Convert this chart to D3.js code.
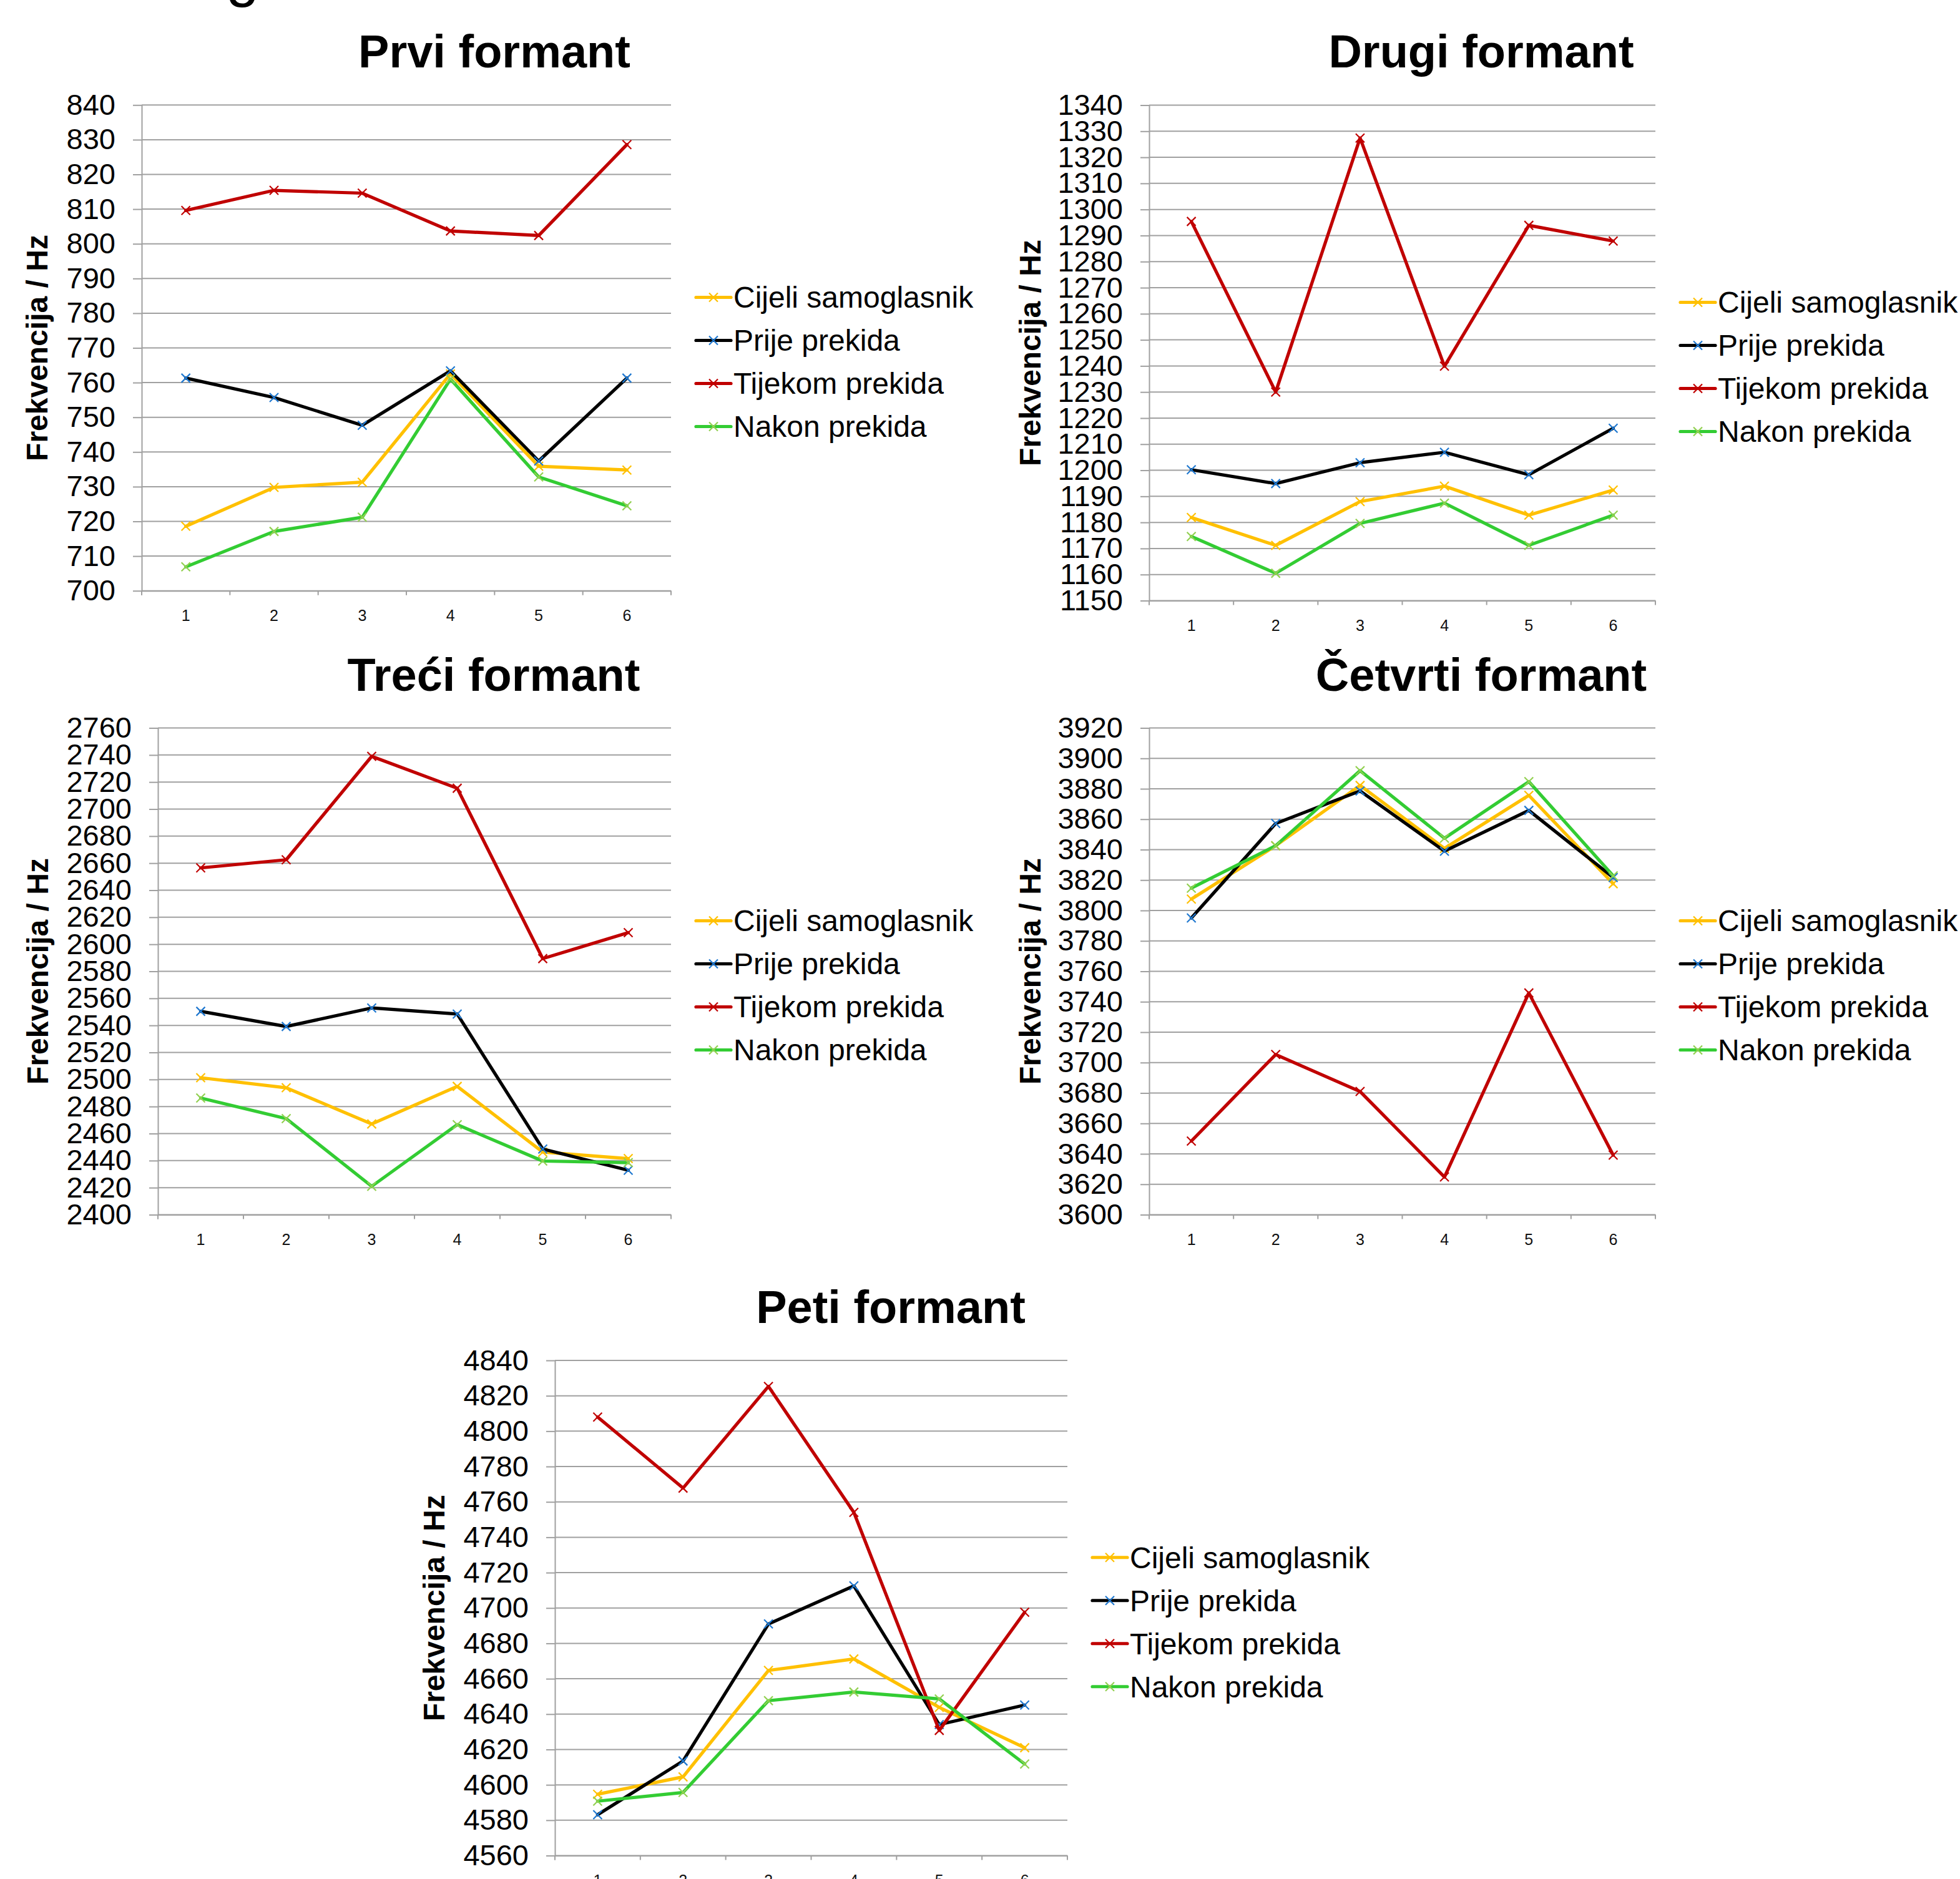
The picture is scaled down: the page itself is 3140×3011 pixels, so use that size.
<!DOCTYPE html>
<html>
<head>
<meta charset="utf-8">
<script src="https://cdn.jsdelivr.net/npm/d3@7"></script>
<style>
  html, body { margin: 0; padding: 0; background: #ffffff; }
  svg { display: block; }
  text { font-family: "Liberation Sans", Arial, "DejaVu Sans", sans-serif; }
</style>
</head>
<body>
<div id="chart"></div>
<script>
// ---------------- DATA ----------------
const categories = [1, 2, 3, 4, 5, 6];
const seriesNames = ["Cijeli samoglasnik", "Prije prekida", "Tijekom prekida", "Nakon prekida"];

const chartTitles = ["Prvi formant", "Drugi formant", "Treći formant", "Četvrti formant", "Peti formant"];
const yAxisTitle = "Frekvencija / Hz";

// Prvi formant
const prviCijeli  = [718.6, 729.8, 731.3, 762.5, 735.9, 734.8];
const prviPrije   = [761.3, 755.7, 747.7, 763.4, 737.4, 761.3];
const prviTijekom = [809.6, 815.4, 814.6, 803.7, 802.4, 828.6];
const prviNakon   = [706.9, 717.1, 721.2, 761.0, 732.8, 724.5];
const prviTicks   = [700, 710, 720, 730, 740, 750, 760, 770, 780, 790, 800, 810, 820, 830, 840];

// Drugi formant
const drugiCijeli  = [1181.9, 1171.2, 1188.0, 1193.9, 1182.8, 1192.4];
const drugiPrije   = [1200.2, 1194.9, 1202.9, 1206.9, 1198.3, 1216.1];
const drugiTijekom = [1295.4, 1230.0, 1327.4, 1239.9, 1293.9, 1287.9];
const drugiNakon   = [1174.6, 1160.5, 1179.6, 1187.4, 1171.2, 1182.8];
const drugiTicks   = [1150, 1160, 1170, 1180, 1190, 1200, 1210, 1220, 1230, 1240, 1250, 1260, 1270, 1280, 1290, 1300, 1310, 1320, 1330, 1340];

// Treći formant
const treciCijeli  = [2501.3, 2493.9, 2467.1, 2494.9, 2446.3, 2441.5];
const treciPrije   = [2550.4, 2539.2, 2552.9, 2548.4, 2448.6, 2432.9];
const treciTijekom = [2656.5, 2662.5, 2739.0, 2715.4, 2589.4, 2608.6];
const treciNakon   = [2486.3, 2471.1, 2421.0, 2466.6, 2439.7, 2438.5];
const treciTicks   = [2400, 2420, 2440, 2460, 2480, 2500, 2520, 2540, 2560, 2580, 2600, 2620, 2640, 2660, 2680, 2700, 2720, 2740, 2760];

// Četvrti formant
const cetvrtiCijeli  = [3807.5, 3842.6, 3882.2, 3840.8, 3875.7, 3817.6];
const cetvrtiPrije   = [3795.1, 3857.2, 3878.6, 3839.0, 3865.8, 3821.7];
const cetvrtiTijekom = [3648.4, 3705.3, 3681.0, 3624.8, 3745.8, 3639.2];
const cetvrtiNakon   = [3814.7, 3842.6, 3891.9, 3847.5, 3884.7, 3822.8];
const cetvrtiTicks   = [3600, 3620, 3640, 3660, 3680, 3700, 3720, 3740, 3760, 3780, 3800, 3820, 3840, 3860, 3880, 3900, 3920];

// Peti formant
const petiCijeli  = [4594.7, 4604.5, 4664.7, 4671.2, 4643.8, 4621.0];
const petiPrije   = [4583.1, 4613.5, 4691.0, 4712.5, 4634.1, 4645.1];
const petiTijekom = [4808.0, 4767.8, 4825.3, 4754.1, 4630.8, 4697.6];
const petiNakon   = [4590.8, 4595.7, 4647.6, 4652.5, 4648.6, 4611.8];
const petiTicks   = [4560, 4580, 4600, 4620, 4640, 4660, 4680, 4700, 4720, 4740, 4760, 4780, 4800, 4820, 4840];

// ---------------- STYLE / LAYOUT ----------------
const lineColors   = ["#FFC000", "#000000", "#C00000", "#33CC33"];
const markerColors = ["#FFC000", "#1F78D0", "#C00000", "#92D050"];
const gridColor = "#A0A0A0";

const layouts = [
  { x0: 227,  x1: 1075, y0: 168.3,  y1: 946.7,  tx: 792,  ty: 108,  ytx: 76 },
  { x0: 1841, x1: 2652, y0: 168.5,  y1: 962.5,  tx: 2373, ty: 108,  ytx: 1667 },
  { x0: 253,  x1: 1075, y0: 1166.5, y1: 1946.5, tx: 791,  ty: 1107, ytx: 77 },
  { x0: 1841, x1: 2652, y0: 1166.5, y1: 1946.5, tx: 2373, ty: 1107, ytx: 1667 },
  { x0: 889,  x1: 1710, y0: 2180,   y1: 2973.5, tx: 1427, ty: 2120, ytx: 712 }
];

const chartData = [
  { series: [prviCijeli, prviPrije, prviTijekom, prviNakon], ticks: prviTicks },
  { series: [drugiCijeli, drugiPrije, drugiTijekom, drugiNakon], ticks: drugiTicks },
  { series: [treciCijeli, treciPrije, treciTijekom, treciNakon], ticks: treciTicks },
  { series: [cetvrtiCijeli, cetvrtiPrije, cetvrtiTijekom, cetvrtiNakon], ticks: cetvrtiTicks },
  { series: [petiCijeli, petiPrije, petiTijekom, petiNakon], ticks: petiTicks }
];

const W = 3140, H = 3011;
const svg = d3.select("#chart").append("svg")
  .attr("width", W).attr("height", H)
  .attr("viewBox", `0 0 ${W} ${H}`);
svg.append("rect").attr("width", W).attr("height", H).attr("fill", "#ffffff");

// clipped caption fragment at the very top (from the surrounding document)
svg.append("text")
  .attr("x", 362).attr("y", -8)
  .attr("font-family", "'Liberation Serif', 'Times New Roman', serif")
  .attr("font-size", 96)
  .attr("fill", "#000")
  .text("g");

function xMarker(sel, size) {
  return sel.attr("d", `M${-size},${-size}L${size},${size}M${-size},${size}L${size},${-size}`);
}

chartData.forEach((cd, ci) => {
  const L = layouts[ci];
  const g = svg.append("g");

  const x = d3.scaleBand().domain(categories).range([L.x0, L.x1]).padding(0);
  const y = d3.scaleLinear()
    .domain([cd.ticks[0], cd.ticks[cd.ticks.length - 1]])
    .range([L.y1, L.y0]);

  // horizontal gridlines
  g.append("g").selectAll("line").data(cd.ticks).join("line")
    .attr("x1", L.x0).attr("x2", L.x1)
    .attr("y1", d => y(d)).attr("y2", d => y(d))
    .attr("stroke", gridColor).attr("stroke-width", 2);

  // y axis
  const yAxis = d3.axisLeft(y).tickValues(cd.ticks).tickSize(14).tickSizeOuter(0).tickPadding(28)
    .tickFormat(d3.format("d"));
  const ya = g.append("g").attr("transform", `translate(${L.x0},0)`).call(yAxis);
  ya.select(".domain").attr("stroke", gridColor).attr("stroke-width", 2);
  ya.selectAll(".tick line").attr("stroke", gridColor).attr("stroke-width", 2);
  ya.selectAll(".tick text")
    .attr("font-size", 47).attr("fill", "#000")
    .attr("font-family", "'Liberation Sans', Arial, sans-serif");

  // extend vertical axis below the baseline (tick length)
  g.append("line")
    .attr("x1", L.x0).attr("x2", L.x0).attr("y1", L.y1).attr("y2", L.y1 + 7)
    .attr("stroke", gridColor).attr("stroke-width", 2);

  // x axis (labels at category centres)
  const xAxis = d3.axisBottom(x).tickSize(0).tickPadding(31).tickSizeOuter(0);
  const xa = g.append("g").attr("transform", `translate(0,${L.y1})`).call(xAxis);
  xa.select(".domain").attr("stroke", gridColor).attr("stroke-width", 2);
  xa.selectAll(".tick text")
    .attr("font-size", 25).attr("fill", "#111")
    .attr("font-family", "'Liberation Sans', Arial, sans-serif");

  // tick marks at category boundaries
  const bounds = categories.map(c => x(c)).concat([x(categories[categories.length - 1]) + x.bandwidth()]);
  g.append("g").selectAll("line").data(bounds).join("line")
    .attr("x1", d => d).attr("x2", d => d)
    .attr("y1", L.y1).attr("y2", L.y1 + 7)
    .attr("stroke", gridColor).attr("stroke-width", 2);

  // series lines + markers
  const line = d3.line()
    .x((d, i) => x(categories[i]) + x.bandwidth() / 2)
    .y(d => y(d));

  cd.series.forEach((vals, si) => {
    g.append("path")
      .attr("d", line(vals))
      .attr("fill", "none")
      .attr("stroke", lineColors[si])
      .attr("stroke-width", 5.2)
      .attr("stroke-linejoin", "round")
      .attr("stroke-linecap", "round");
    g.append("g").selectAll("path").data(vals).join("path")
      .attr("transform", (d, i) => `translate(${x(categories[i]) + x.bandwidth() / 2},${y(d)})`)
      .call(s => xMarker(s, 7))
      .attr("fill", "none")
      .attr("stroke", markerColors[si])
      .attr("stroke-width", 2.2);
  });

  // chart title
  g.append("text")
    .attr("x", L.tx).attr("y", L.ty)
    .attr("text-anchor", "middle")
    .attr("font-size", 74).attr("font-weight", "bold")
    .attr("fill", "#000")
    .text(chartTitles[ci]);

  // y axis title
  const cy = (L.y0 + L.y1) / 2;
  g.append("text")
    .attr("transform", `translate(${L.ytx},${cy}) rotate(-90)`)
    .attr("text-anchor", "middle")
    .attr("font-size", 48).attr("font-weight", "bold")
    .attr("fill", "#000")
    .text(yAxisTitle);

  // legend
  const lx = L.x1 + 40;
  const lcy = cy + 22.5;
  const rowGap = 69;
  const leg = g.append("g");
  seriesNames.forEach((name, si) => {
    const ry = lcy + (si - 1.5) * rowGap;
    leg.append("line")
      .attr("x1", lx).attr("x2", lx + 56).attr("y1", ry).attr("y2", ry)
      .attr("stroke", lineColors[si]).attr("stroke-width", 5.2)
      .attr("stroke-linecap", "round");
    leg.append("path")
      .attr("transform", `translate(${lx + 28},${ry})`)
      .call(s => xMarker(s, 7))
      .attr("fill", "none").attr("stroke", markerColors[si]).attr("stroke-width", 2.2);
    leg.append("text")
      .attr("x", lx + 60).attr("y", ry).attr("dy", "0.35em")
      .attr("font-size", 48).attr("fill", "#000")
      .text(name);
  });
});
</script>
</body>
</html>
